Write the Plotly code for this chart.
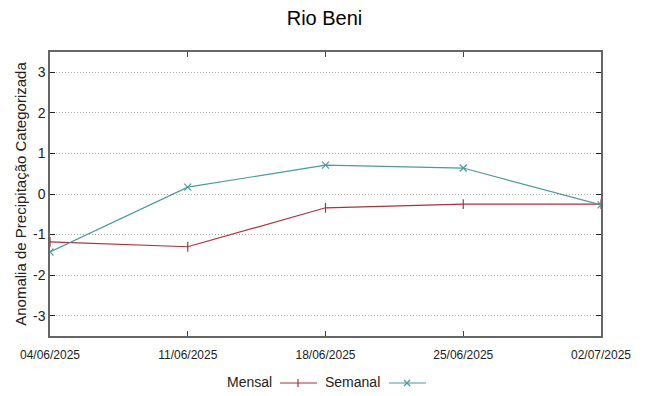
import plotly.graph_objects as go

dates = ["2025-06-04", "2025-06-11", "2025-06-18", "2025-06-25", "2025-07-02"]
tick_labels = ["04/06/2025", "11/06/2025", "18/06/2025", "25/06/2025", "02/07/2025"]
mensal = [-1.18, -1.30, -0.34, -0.25, -0.25]
semanal = [-1.43, 0.17, 0.71, 0.64, -0.27]
y_ticks = [-3, -2, -1, 0, 1, 2, 3]
y_tick_labels = ["-3", "-2", "-1", "0", "1", "2", "3"]

RED = "#a8323a"
TEAL = "#4d9a9a"
FONT = "Liberation Sans"

fig = go.Figure()
fig.add_trace(go.Scatter(x=dates, y=mensal, mode="lines+markers", name="Mensal",
                         line=dict(color=RED, width=1.2),
                         marker=dict(symbol="line-ns", size=7, line=dict(color=RED, width=1.2), color=RED),
                         showlegend=False, hoverinfo="skip"))
fig.add_trace(go.Scatter(x=dates, y=semanal, mode="lines+markers", name="Semanal",
                         line=dict(color=TEAL, width=1.2),
                         marker=dict(symbol="x-thin", size=7, line=dict(color=TEAL, width=1.2), color=TEAL),
                         showlegend=False, hoverinfo="skip"))

fig.update_layout(
    width=649, height=396,
    margin=dict(l=50, r=48, t=52, b=60, autoexpand=False),
    paper_bgcolor="white", plot_bgcolor="white",
    font=dict(family=FONT, color="black"),
    title=dict(text="Rio Beni", x=0.5, xanchor="center", y=1 - 18 / 396, yanchor="middle",
               font=dict(size=20, family=FONT)),
)
fig.update_xaxes(
    type="date", range=[dates[0], dates[-1]],
    tickvals=dates, ticktext=tick_labels,
    ticks="inside", ticklen=5, tickcolor="#444", mirror="ticks",
    showline=True, linecolor="#666", linewidth=1.5,
    showgrid=False, zeroline=False, automargin=False,
    tickfont=dict(size=12, family=FONT, color="#222"),
    ticklabelstandoff=7,
)
fig.update_yaxes(
    range=[-3.5, 3.5], tickvals=y_ticks, ticktext=y_tick_labels,
    ticks="inside", ticklen=5, tickcolor="#222", mirror="ticks",
    showline=True, linecolor="#666", linewidth=1.5,
    showgrid=True, gridcolor="#aaaaaa", griddash="1px,2px", gridwidth=1,
    zeroline=False, automargin=False,
    tickfont=dict(size=14, color="#222"),
    title=dict(text="Anomalia de Precipitação Categorizada", font=dict(size=15, color="#222"), standoff=3),
)

# manual legend (gnuplot style: text then sample)
def px(v):
    return (v - 50) / 551
def py(v):
    return (336 - v) / 284
fig.add_annotation(xref="paper", yref="paper", x=px(274), y=py(382), text="Mensal",
                   showarrow=False, xanchor="right", yanchor="middle", font=dict(size=14, color="#222"))
fig.add_annotation(xref="paper", yref="paper", x=px(382), y=py(382), text="Semanal",
                   showarrow=False, xanchor="right", yanchor="middle", font=dict(size=14, color="#222"))
fig.add_shape(type="line", xref="paper", yref="paper", x0=px(280), x1=px(317), y0=py(383), y1=py(383),
              line=dict(color=RED, width=1.2))
fig.add_shape(type="line", xref="paper", yref="paper", x0=px(298), x1=px(298), y0=py(379), y1=py(387),
              line=dict(color=RED, width=1.2))
fig.add_shape(type="line", xref="paper", yref="paper", x0=px(389), x1=px(426), y0=py(383), y1=py(383),
              line=dict(color=TEAL, width=1.2))
fig.add_shape(type="line", xref="paper", yref="paper", x0=px(404), x1=px(410), y0=py(380), y1=py(386),
              line=dict(color=TEAL, width=1.2))
fig.add_shape(type="line", xref="paper", yref="paper", x0=px(404), x1=px(410), y0=py(386), y1=py(380),
              line=dict(color=TEAL, width=1.2))

fig.write_html("out.html", config={"displayModeBar": False},
               post_script="document.body.style.margin='0';document.body.style.overflow='hidden';")
